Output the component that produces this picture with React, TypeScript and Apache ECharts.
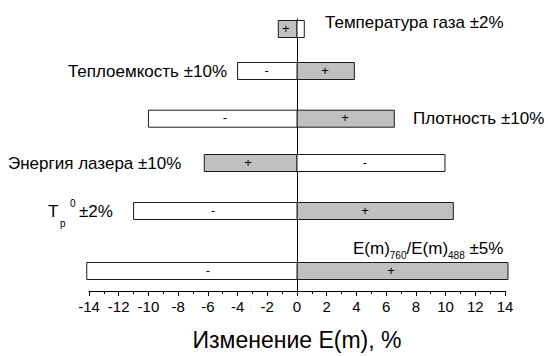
import React, { useEffect, useRef } from "react";
import * as echarts from "echarts";

// Rows, top to bottom
const rowNames = [
  "Температура газа ±2%",
  "Теплоемкость ±10%",
  "Плотность ±10%",
  "Энергия лазера ±10%",
  "Tp0 ±2%",
  "E(m)760/E(m)488 ±5%",
];
// vertical position of each row on the (hidden) row axis
const rowPos = [1.0, 5.2, 9.97, 14.4, 19.2, 25.2];
// change of E(m), % when the parameter is increased ("+", grey bars)
const plusValues = [-1.26, 3.86, 6.55, -6.24, 10.52, 14.2];
// change of E(m), % when the parameter is decreased ("-", white bars)
const minusValues = [0.49, -4.0, -10.0, 9.96, -11.0, -14.15];
// x value (in %) at which the "+" / "-" mark sits inside each bar
const plusMarkAt = [-0.76, 1.88, 3.23, -3.3, 4.58, 6.33];
const minusMarkAt: (number | null)[] = [null, -2.04, -4.85, 4.58, -5.65, -6.0];
const xTicks = { min: -14, max: 14, interval: 2 };
const xTitle = "Изменение E(m), %";

const FONT = "'Liberation Sans', Arial, sans-serif";

function makeBarSeries(
  name: string,
  values: number[],
  marks: (number | null)[],
  fill: string,
  sign: string
) {
  return {
    type: "custom",
    name,
    clip: false,
    encode: { x: 0, y: 1 },
    data: values.map((v, i) => [v, rowPos[i]]),
    renderItem: (params: any, api: any) => {
      const v = api.value(0);
      const y = api.value(1);
      const p0 = api.coord([0, y]);
      const p1 = api.coord([v, y]);
      const h = 17;
      const x0 = Math.min(p0[0], p1[0]);
      const w = Math.abs(p1[0] - p0[0]);
      const children: any[] = [
        {
          type: "rect",
          shape: { x: x0, y: p0[1] - h / 2, width: w, height: h },
          style: { fill, stroke: "#1a1a1a", lineWidth: 1 },
        },
      ];
      const m = marks[params.dataIndex];
      if (m !== null && m !== undefined) {
        const pm = api.coord([m, y]);
        children.push({
          type: "text",
          x: pm[0],
          y: p0[1] - 1,
          style: {
            text: sign,
            fill: "#000",
            font: `13px ${FONT}`,
            align: "center",
            verticalAlign: "middle",
          },
        });
      }
      return { type: "group", children };
    },
  };
}

export default function App() {
  const ref = useRef<HTMLDivElement>(null);
  useEffect(() => {
    if (!ref.current) return;
    document.body.style.margin = "0";
    const chart = echarts.init(ref.current, null, { renderer: "svg" });
    const labelStyle = { fill: "#000", font: `17px ${FONT}`, verticalAlign: "middle" };
    chart.setOption({
      animation: false,
      backgroundColor: "#fff",
      grid: { left: 89, right: 43, top: 19, bottom: 65 },
      xAxis: {
        type: "value",
        min: xTicks.min,
        max: xTicks.max,
        interval: xTicks.interval,
        name: xTitle,
        nameLocation: "middle",
        nameGap: 37,
        nameTextStyle: { fontSize: 23, color: "#000", fontFamily: FONT },
        axisLine: { onZero: false, lineStyle: { color: "#000", width: 1 } },
        axisTick: { show: true, inside: false, length: 5, lineStyle: { color: "#000" } },
        minorTick: { show: true, splitNumber: 2, length: 3, lineStyle: { color: "#000" } },
        axisLabel: { color: "#000", fontSize: 15, fontFamily: FONT, margin: 8 },
        splitLine: { show: false },
      },
      yAxis: {
        type: "value",
        min: 0,
        max: 27.2,
        inverse: true,
        axisLine: { show: true, onZero: true, lineStyle: { color: "#000", width: 1 } },
        axisTick: { show: false },
        axisLabel: { show: false },
        splitLine: { show: false },
      },
      graphic: [
        { type: "text", x: 325, y: 22.5, style: { ...labelStyle, text: rowNames[0], align: "left" } },
        { type: "text", x: 227, y: 71.5, style: { ...labelStyle, text: rowNames[1], align: "right" } },
        { type: "text", x: 413, y: 118, style: { ...labelStyle, text: rowNames[2], align: "left" } },
        { type: "text", x: 8, y: 163, style: { ...labelStyle, text: rowNames[3], align: "left" } },
        { type: "text", x: 48, y: 211.5, style: { ...labelStyle, text: "T", align: "left" } },
        { type: "text", x: 60, y: 223, style: { fill: "#000", font: `10px ${FONT}`, text: "p", align: "left", verticalAlign: "middle" } },
        { type: "text", x: 70, y: 203, style: { fill: "#000", font: `10px ${FONT}`, text: "0", align: "left", verticalAlign: "middle" } },
        { type: "text", x: 79, y: 211.5, style: { ...labelStyle, text: "±2%", align: "left" } },
        {
          type: "text",
          x: 353,
          y: 248,
          style: {
            text: "{a|E(m)}{s|760}{a|/E(m)}{s|488}{a| ±5%}",
            align: "left",
            verticalAlign: "middle",
            rich: {
              a: { fontSize: 17, fontFamily: FONT, fill: "#000", lineHeight: 24 },
              s: { fontSize: 10, fontFamily: FONT, fill: "#000", lineHeight: 8, verticalAlign: "bottom" },
            },
          },
        },
      ],
      series: [
        makeBarSeries("+", plusValues, plusMarkAt, "#c0c0c0", "+"),
        makeBarSeries("-", minusValues, minusMarkAt, "#ffffff", "-"),
      ],
    });
    return () => chart.dispose();
  }, []);
  return <div ref={ref} style={{ width: 548, height: 356 }} />;
}
